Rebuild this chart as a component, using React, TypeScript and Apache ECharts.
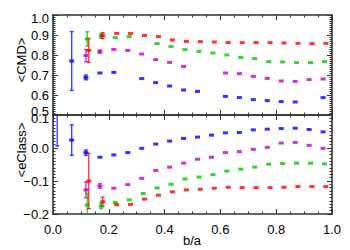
import React, { useEffect, useRef } from "react";
import * as echarts from "echarts";

// b/a bin centres (shared by all four colour groups)
const baX = [0.118, 0.168, 0.218, 0.268, 0.318, 0.368, 0.418, 0.468, 0.518, 0.568, 0.618, 0.668, 0.718, 0.768, 0.818, 0.868, 0.918, 0.968];
// small per-group x offsets of the bin means
const shiftRed = 0.01;
const shiftGreen = 0.005;
const shiftMagenta = 0;
const shiftBlue = 0;

// <CMD> (top panel)
const cmdBlue = [0.688, 0.71, 0.713, null, 0.682, 0.662, 0.645, 0.625, 0.618, null, 0.593, 0.587, 0.577, 0.572, 0.567, 0.565, null, 0.587];
const cmdMagenta = [0.797, 0.817, 0.828, 0.823, 0.805, 0.777, 0.763, 0.743, null, null, 0.71, 0.707, 0.693, 0.683, 0.67, 0.668, 0.677, 0.68];
const cmdGreen = [0.88, 0.895, 0.887, 0.892, null, 0.857, 0.842, 0.827, 0.818, 0.81, 0.8, 0.788, 0.782, 0.767, 0.765, 0.762, 0.762, 0.767];
const cmdRed = [0.823, 0.897, 0.908, 0.908, 0.898, 0.892, 0.875, 0.868, 0.867, 0.865, 0.862, 0.862, 0.862, 0.862, 0.86, 0.858, 0.857, 0.858];
// errors of the first bins
const cmdBlueErr = [0.012, 0];
const cmdMagentaErr = [0.03, 0.008];
const cmdGreenErr = [0.036, 0.012];
const cmdRedErr = [0.06, 0.015];

// <eClass> (bottom panel)
const eclBlue = [-0.014, -0.028, -0.021, -0.014, -0.001, 0.012, 0.021, 0.029, 0.033, 0.039, 0.046, 0.047, 0.055, 0.057, 0.059, 0.06, 0.056, 0.049];
const eclMagenta = [-0.127, -0.115, -0.122, -0.111, -0.092, -0.068, -0.058, -0.046, -0.034, -0.028, -0.014, -0.011, -0.004, 0.002, 0.015, 0.017, 0.008, -0.001];
const eclGreen = [-0.173, -0.176, -0.165, -0.157, -0.138, -0.121, -0.11, -0.094, -0.088, -0.081, -0.07, -0.064, -0.058, -0.049, -0.047, -0.046, -0.046, -0.048];
const eclRed = [-0.1, -0.163, -0.172, -0.171, -0.155, -0.143, -0.133, -0.127, -0.125, -0.122, -0.119, -0.12, -0.12, -0.12, -0.119, -0.117, -0.117, -0.117];
const eclBlueErr = [0.008, 0];
const eclMagentaErr = [0.024, 0.007];
const eclGreenErr = [0.036, 0.008];
const eclRedErr = [0.084, 0.014];

// extra low b/a blue bins
const blueExtraX = [0.015, 0.067];
const blueExtraCmd = [null, 0.77];
const blueExtraCmdErr = [0, 0.147];
const blueExtraEcl = [0.2, 0.024];
const blueExtraEclErr = [0.194, 0.046];

const RED = "#ff0000";
const GREEN = "#00c800";
const MAGENTA = "#c000c0";
const BLUE = "#0000ff";
const AXIS = "#333333";
const FONT = "Liberation Sans";
const TICK_FS = 13;

type Pt = [number, number, number];

function build(xs: number[], ys: (number | null)[], shift: number, errs: number[]): Pt[] {
  const out: Pt[] = [];
  ys.forEach((y, i) => {
    if (y === null) return;
    out.push([xs[i] + shift, y, errs[i] || 0]);
  });
  return out;
}

function fmt(v: number): string {
  if (Math.abs(v) < 1e-9) return "0.0";
  const s = v.toFixed(1);
  return s.replace("-", "\u2212");
}

export default function App() {
  const ref = useRef<HTMLDivElement>(null);
  useEffect(() => {
    if (!ref.current) return;
    const chart = echarts.init(ref.current, undefined, { renderer: "svg" });

    const errSeries = (name: string, data: Pt[], color: string, xi: number, yi: number) => ({
      type: "custom",
      name,
      xAxisIndex: xi,
      yAxisIndex: yi,
      clip: true,
      silent: true,
      z: 3,
      data: data.filter((d) => d[2] > 0),
      renderItem: (params: any, api: any) => {
        const x = api.value(0);
        const y = api.value(1);
        const e = api.value(2);
        const p0 = api.coord([x, y - e]);
        const p1 = api.coord([x, y + e]);
        const cw = 2;
        const style = { stroke: color, lineWidth: 1.4, opacity: 0.75 };
        return {
          type: "group",
          children: [
            { type: "line", shape: { x1: p0[0], y1: p0[1], x2: p1[0], y2: p1[1] }, style },
            { type: "line", shape: { x1: p0[0] - cw, y1: p0[1], x2: p0[0] + cw, y2: p0[1] }, style },
            { type: "line", shape: { x1: p1[0] - cw, y1: p1[1], x2: p1[0] + cw, y2: p1[1] }, style },
          ],
        };
      },
    });

    const ptSeries = (name: string, data: Pt[], color: string, xi: number, yi: number) => ({
      type: "scatter",
      name,
      xAxisIndex: xi,
      yAxisIndex: yi,
      symbol: "rect",
      symbolSize: [5, 3],
      itemStyle: { color },
      z: 4,
      silent: true,
      data: data.map((d) => [d[0], d[1]]),
    });

    const top = {
      blue: build(baX, cmdBlue, shiftBlue, cmdBlueErr).concat(build(blueExtraX, blueExtraCmd, 0, blueExtraCmdErr)),
      magenta: build(baX, cmdMagenta, shiftMagenta, cmdMagentaErr),
      green: build(baX, cmdGreen, shiftGreen, cmdGreenErr),
      red: build(baX, cmdRed, shiftRed, cmdRedErr),
    };
    const bot = {
      blue: build(baX, eclBlue, shiftBlue, eclBlueErr).concat(build(blueExtraX, blueExtraEcl, 0, blueExtraEclErr)),
      magenta: build(baX, eclMagenta, shiftMagenta, eclMagentaErr),
      green: build(baX, eclGreen, shiftGreen, eclGreenErr),
      red: build(baX, eclRed, shiftRed, eclRedErr),
    };

    const line = { show: true, lineStyle: { color: AXIS, width: 1.6 } };
    const xCommon = (gi: number, pos: "top" | "bottom", labels: boolean) => ({
      type: "value",
      gridIndex: gi,
      position: pos,
      min: 0,
      max: 1,
      interval: 0.2,
      axisLine: { ...line, onZero: false },
      axisTick: { show: true, inside: true, length: 5, lineStyle: { color: AXIS, width: 1 } },
      minorTick: { show: true, splitNumber: 4, length: 2.5, lineStyle: { color: AXIS, width: 1 } },
      splitLine: { show: false },
      axisLabel: {
        show: labels,
        margin: 9,
        fontSize: TICK_FS,
        fontFamily: FONT,
        color: "#000",
        formatter: (v: number) => fmt(v),
      },
    });
    const yCommon = (gi: number, pos: "left" | "right", labels: boolean, min: number, max: number, rich: any, pick: (v: number) => string) => ({
      type: "value",
      gridIndex: gi,
      position: pos,
      min,
      max,
      interval: 0.1,
      axisLine: { ...line, onZero: false },
      axisTick: { show: true, inside: true, length: 5, lineStyle: { color: AXIS, width: 1 } },
      minorTick: { show: true, splitNumber: 10, length: 2.5, lineStyle: { color: AXIS, width: 1 } },
      splitLine: { show: false },
      axisLabel: {
        show: labels,
        margin: 4,
        fontSize: TICK_FS,
        fontFamily: FONT,
        color: "#000",
        formatter: pick,
        rich,
      },
    });

    const richStyles = {
      dn: { fontSize: TICK_FS, fontFamily: FONT, color: "#000", padding: [7, 0, 0, 0] },
      up: { fontSize: TICK_FS, fontFamily: FONT, color: "#000", padding: [0, 0, 8, 0] },
    };

    chart.setOption({
      animation: false,
      backgroundColor: "#fff",
      grid: [
        { left: 53, top: 15, width: 279, height: 100, containLabel: false },
        { left: 53, top: 115, width: 279, height: 99, containLabel: false },
      ],
      xAxis: [xCommon(0, "bottom", false), xCommon(0, "top", false), xCommon(1, "bottom", true), xCommon(1, "top", false)],
      yAxis: [
        yCommon(0, "left", true, 0.5, 1.0, richStyles, (v: number) => {
          const s = fmt(v);
          if (Math.abs(v - 1) < 1e-9) return "{dn|" + s + "}";
          if (Math.abs(v - 0.5) < 1e-9) return "{up|" + s + "}";
          return s;
        }),
        yCommon(0, "right", false, 0.5, 1.0, richStyles, fmt),
        yCommon(1, "left", true, -0.2, 0.1, richStyles, (v: number) => {
          const s = fmt(v);
          if (Math.abs(v - 0.1) < 1e-9) return "{dn|" + s + "}";
          return s;
        }),
        yCommon(1, "right", false, -0.2, 0.1, richStyles, fmt),
      ],
      graphic: [
        { type: "text", x: 21, y: 60, rotation: Math.PI / 2, style: { text: "<CMD>", fontSize: 13, fontFamily: FONT, fill: "#000", align: "center", verticalAlign: "middle" } },
        { type: "text", x: 21, y: 150, rotation: Math.PI / 2, style: { text: "<eClass>", fontSize: 13, fontFamily: FONT, fill: "#000", align: "center", verticalAlign: "middle" } },
        { type: "text", x: 192, y: 240, style: { text: "b/a", fontSize: 13, fontFamily: FONT, fill: "#000", align: "center", verticalAlign: "middle" } },
      ],
      series: [
        errSeries("cmd-blue-err", top.blue, BLUE, 0, 0),
        errSeries("cmd-magenta-err", top.magenta, MAGENTA, 0, 0),
        errSeries("cmd-green-err", top.green, GREEN, 0, 0),
        errSeries("cmd-red-err", top.red, RED, 0, 0),
        ptSeries("cmd-blue", top.blue, BLUE, 0, 0),
        ptSeries("cmd-magenta", top.magenta, MAGENTA, 0, 0),
        ptSeries("cmd-green", top.green, GREEN, 0, 0),
        ptSeries("cmd-red", top.red, RED, 0, 0),
        errSeries("ecl-blue-err", bot.blue, BLUE, 2, 2),
        errSeries("ecl-magenta-err", bot.magenta, MAGENTA, 2, 2),
        errSeries("ecl-green-err", bot.green, GREEN, 2, 2),
        errSeries("ecl-red-err", bot.red, RED, 2, 2),
        ptSeries("ecl-blue", bot.blue.filter((d) => d[1] <= 0.1), BLUE, 2, 2),
        ptSeries("ecl-magenta", bot.magenta, MAGENTA, 2, 2),
        ptSeries("ecl-green", bot.green, GREEN, 2, 2),
        ptSeries("ecl-red", bot.red, RED, 2, 2),
      ],
    });
    return () => chart.dispose();
  }, []);

  return <div ref={ref} style={{ position: "fixed", left: 0, top: 0, width: 350, height: 250 }} />;
}
